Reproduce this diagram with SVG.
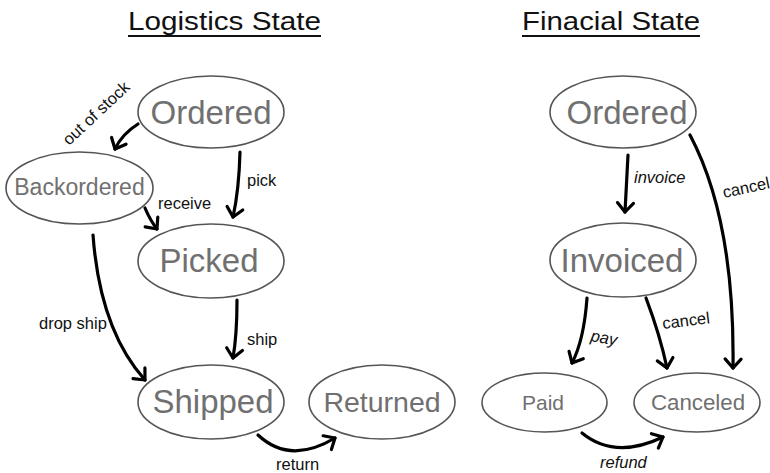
<svg xmlns="http://www.w3.org/2000/svg" width="770" height="473" viewBox="0 0 770 473">
<style>
.title{font-family:"Liberation Sans",Arial,sans-serif;font-size:25px;fill:#111}
.node ellipse{fill:#fff;stroke:#555;stroke-width:1.6}
.node text{font-family:"Liberation Sans",Arial,sans-serif;fill:#707070;text-anchor:middle}
.edge{fill:none;stroke:#000;stroke-width:3.2;stroke-linecap:round}
.lbl{font-family:"Liberation Sans",Arial,sans-serif;font-size:16.5px;fill:#111}
.it{font-style:italic}
</style>
<defs>
<marker id="ah" markerUnits="userSpaceOnUse" viewBox="-14 -12 18 24" markerWidth="18" markerHeight="24" refX="0" refY="0" orient="auto">
<path d="M-9,-8 L0,0 L-9,8" fill="none" stroke="#000" stroke-width="3.2" stroke-linecap="round" stroke-linejoin="round"/>
</marker>
</defs>
<rect width="770" height="473" fill="#fff"/>
<g id="titles">
<text class="title" x="128" y="30" textLength="193" lengthAdjust="spacingAndGlyphs">Logistics State</text>
<line x1="128" y1="36" x2="321" y2="36" stroke="#111" stroke-width="2"/>
<text class="title" x="522" y="30" textLength="178" lengthAdjust="spacingAndGlyphs">Finacial State</text>
<line x1="522" y1="36" x2="700" y2="36" stroke="#111" stroke-width="2"/>
</g>
<g id="connectors">
<path class="edge" d="M138,124 Q122,134 115,149" marker-end="url(#ah)"/>
<path class="edge" d="M240,152 Q239,190 233,217" marker-end="url(#ah)"/>
<path class="edge" d="M145,208 Q150,220 157,229" marker-end="url(#ah)"/>
<path class="edge" d="M93,235 Q100,330 145,380" marker-end="url(#ah)"/>
<path class="edge" d="M237,300 Q237,335 233,358" marker-end="url(#ah)"/>
<path class="edge" d="M258,435 Q290,465 335,438" marker-end="url(#ah)"/>
<path class="edge" d="M628,155 L625,212" marker-end="url(#ah)"/>
<path class="edge" d="M690,135 Q735,220 733,368" marker-end="url(#ah)"/>
<path class="edge" d="M587,298 Q584,340 572,363" marker-end="url(#ah)"/>
<path class="edge" d="M646,298 Q660,335 667,368" marker-end="url(#ah)"/>
<path class="edge" d="M582,433 Q615,460 663,437" marker-end="url(#ah)"/>
</g>
<g id="labels">
<text class="lbl" transform="translate(69,146) rotate(-43)">out of stock</text>
<text class="lbl" x="247" y="186">pick</text>
<text class="lbl" x="158" y="209">receive</text>
<text class="lbl" x="39" y="329">drop ship</text>
<text class="lbl" x="247" y="345">ship</text>
<text class="lbl" x="276" y="470">return</text>
<text class="lbl it" x="634" y="183">invoice</text>
<text class="lbl" transform="translate(724,198) rotate(-12)">cancel</text>
<text class="lbl it" transform="translate(590,341) rotate(10)">pay</text>
<text class="lbl" transform="translate(663,329) rotate(-7)">cancel</text>
<text class="lbl it" x="600" y="468">refund</text>
</g>
<g id="log-ordered" class="node"><ellipse cx="211" cy="112" rx="73" ry="36"/><text x="211" y="124" font-size="33">Ordered</text></g>
<g id="log-backordered" class="node"><ellipse cx="79.5" cy="188" rx="73.5" ry="36"/><text x="79.5" y="195" font-size="23">Backordered</text></g>
<g id="log-picked" class="node"><ellipse cx="211" cy="261" rx="73" ry="37"/><text x="209" y="272" font-size="33">Picked</text></g>
<g id="log-shipped" class="node"><ellipse cx="211" cy="402" rx="73" ry="37"/><text x="213" y="413" font-size="33">Shipped</text></g>
<g id="log-returned" class="node"><ellipse cx="382" cy="402" rx="73" ry="37"/><text x="382" y="412" font-size="28.5">Returned</text></g>
<g id="fin-ordered" class="node"><ellipse cx="623" cy="112" rx="73" ry="36"/><text x="627" y="124" font-size="33">Ordered</text></g>
<g id="fin-invoiced" class="node"><ellipse cx="623" cy="260" rx="73" ry="37"/><text x="622" y="272" font-size="33">Invoiced</text></g>
<g id="fin-paid" class="node"><ellipse cx="544.5" cy="402.5" rx="62.5" ry="29.5"/><text x="543" y="410" font-size="21">Paid</text></g>
<g id="fin-canceled" class="node"><ellipse cx="697" cy="402.5" rx="63" ry="29.5"/><text x="698" y="410" font-size="22.3">Canceled</text></g>
</svg>
